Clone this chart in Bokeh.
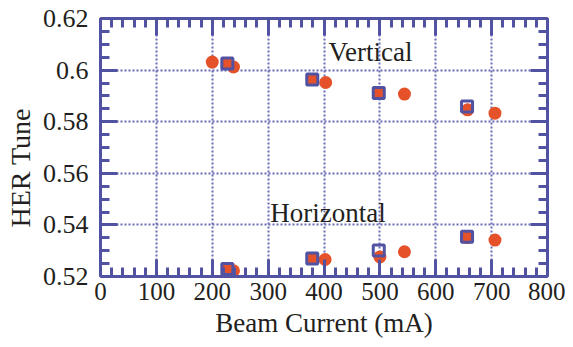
from bokeh.plotting import figure
from bokeh.models import LinearAxis, Range1d, FixedTicker, ColumnDataSource, Grid, Title
from bokeh.core.properties import value
from bokeh.embed import file_html
from bokeh.resources import INLINE

# Data
vert_circle_x = [200, 227, 238, 379, 403, 498, 544, 657, 706]
vert_circle_y = [0.6031, 0.6026, 0.6012, 0.5964, 0.5952, 0.5911, 0.5907, 0.5846, 0.5833]
horz_circle_x = [227, 238, 379, 402, 500, 544, 656, 706]
horz_circle_y = [0.5229, 0.5222, 0.5270, 0.5266, 0.5276, 0.5296, 0.5351, 0.5341]
vert_square_x = [227, 379, 498, 656]
vert_square_y = [0.6026, 0.5964, 0.5911, 0.5859]
horz_square_x = [227, 379, 498, 656]
horz_square_y = [0.5229, 0.5270, 0.5301, 0.5354]

x_ticks = [0, 100, 200, 300, 400, 500, 600, 700, 800]
y_ticks = [0.52, 0.54, 0.56, 0.58, 0.60, 0.62]
y_tick_labels = {0.52: "0.52", 0.54: "0.54", 0.56: "0.56", 0.58: "0.58", 0.6: "0.6", 0.62: "0.62"}
x_minor = [v for v in range(0, 801, 20)]
y_minor = [round(0.52 + 0.005 * i, 3) for i in range(21)]

annotations_text = ["Vertical", "Horizontal"]
annotations_x = [408, 304]
annotations_y = [0.6072, 0.5448]

AXIS = "#5252A2"
GRID = "#6A6AB8"
ORANGE = "#E5522A"
TEXT = "#231f20"
FONT = "Liberation Serif"

p = figure(width=565, height=345, output_backend="svg", toolbar_location=None,
           x_range=Range1d(0, 800), y_range=Range1d(0.52, 0.62),
           x_axis_location=None, y_axis_location=None,
           min_border_left=97, min_border_right=18, min_border_top=18, min_border_bottom=69)
p.outline_line_color = None
p.background_fill_color = "white"

def style_axis(ax, ticks, minor, labels=True):
    ax.ticker = FixedTicker(ticks=ticks, minor_ticks=minor)
    ax.axis_line_color = AXIS
    ax.axis_line_width = 3
    ax.major_tick_line_color = AXIS
    ax.major_tick_line_width = 3
    ax.minor_tick_line_color = AXIS
    ax.minor_tick_line_width = 3
    ax.major_tick_in = 17
    ax.major_tick_out = 0
    ax.minor_tick_in = 9
    ax.minor_tick_out = 0
    ax.major_label_text_font = FONT
    ax.major_label_text_color = TEXT
    ax.axis_label_text_font = FONT
    ax.axis_label_text_font_style = "normal"
    ax.axis_label_text_color = TEXT
    if not labels:
        ax.major_label_overrides = {t: "" for t in ticks}
        ax.major_label_text_font_size = "1px"
        ax.major_label_standoff = 0

bottom = LinearAxis(axis_label="Beam Current (mA)")
style_axis(bottom, x_ticks, x_minor)
bottom.major_label_text_font_size = "25px"
bottom.axis_label_text_font_size = "27px"
bottom.major_label_standoff = 6
bottom.axis_label_standoff = 5
p.add_layout(bottom, "below")

left = LinearAxis()
style_axis(left, y_ticks, y_minor)
left.major_label_overrides = y_tick_labels
left.major_label_text_font_size = "26px"
left.major_label_standoff = 12
p.add_layout(left, "left")

ytitle = Title(text="HER Tune", align="left", offset=49, vertical_align="middle",
               text_font=FONT, text_font_size="28px", text_font_style="normal",
               text_color=TEXT, standoff=6)
p.add_layout(ytitle, "left")

top = LinearAxis()
style_axis(top, x_ticks, x_minor, labels=False)
p.add_layout(top, "above")

right = LinearAxis()
style_axis(right, y_ticks, y_minor, labels=False)
p.add_layout(right, "right")

p.xgrid.visible = False
p.ygrid.visible = False
xg = Grid(dimension=0, ticker=FixedTicker(ticks=x_ticks), grid_line_color=GRID,
          grid_line_width=2, grid_line_dash="2 2")
yg = Grid(dimension=1, ticker=FixedTicker(ticks=y_ticks), grid_line_color=GRID,
          grid_line_width=2, grid_line_dash="2 2")
p.add_layout(xg)
p.add_layout(yg)

p.scatter(vert_circle_x, vert_circle_y, marker="circle", size=13, fill_color=ORANGE, line_color=None)
p.scatter(horz_circle_x, horz_circle_y, marker="circle", size=13, fill_color=ORANGE, line_color=None)
p.scatter(vert_square_x, vert_square_y, marker="square", size=11, fill_color=None, line_color=AXIS, line_width=3)
p.scatter(horz_square_x, horz_square_y, marker="square", size=11, fill_color=None, line_color=AXIS, line_width=3)

src = ColumnDataSource(dict(x=annotations_x, y=annotations_y, t=annotations_text))
p.text(x="x", y="y", text="t", source=src, text_font=value(FONT), text_font_size="27px",
       text_color=TEXT, text_align="left", text_baseline="middle")

open("out.html", "w").write(file_html(p, INLINE))
